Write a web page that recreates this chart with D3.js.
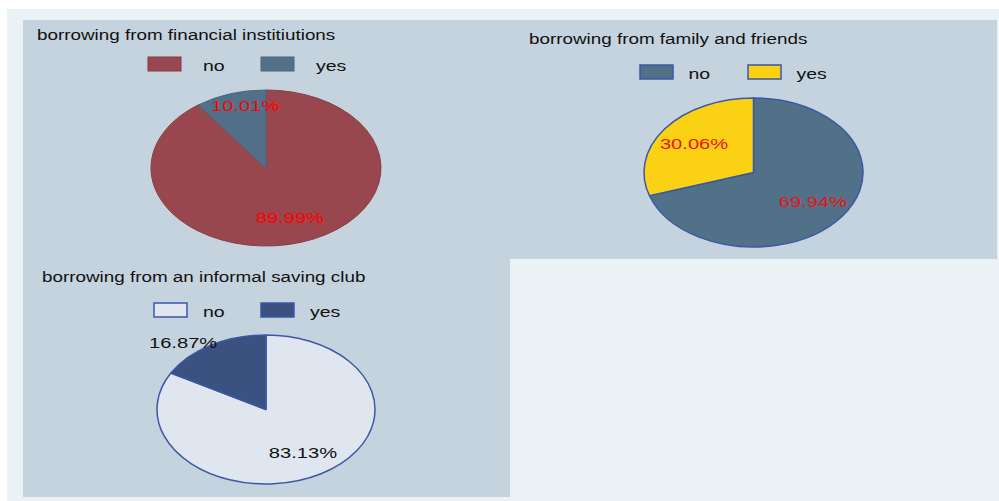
<!DOCTYPE html>
<html>
<head>
<meta charset="utf-8">
<script src="https://cdnjs.cloudflare.com/ajax/libs/d3/7.8.5/d3.min.js"></script>
<style>
  html, body { margin: 0; padding: 0; background: #ffffff; }
  svg { display: block; font-family: "Liberation Sans", Arial, sans-serif; }
</style>
</head>
<body>
<div id="chart"></div>
<script>
// ─── Data ─────────────────────────────────────────────────────────────────────
const TITLES = [
  'borrowing from financial institiutions',
  'borrowing from family and friends',
  'borrowing from an informal saving club',
];
const CATEGORIES = ['no', 'yes'];
const NO_PCT  = [89.99, 69.94, 83.13];
const YES_PCT = [10.01, 30.06, 16.87];

// ─── Layout / style (per panel) ───────────────────────────────────────────────
const W = 999, H = 501;
const SX = 1.3;   // text in the reference is stretched horizontally

const PANELS = [
  { x: 23,  y: 20,  w: 487, h: 239, titleX: 37,  titleY: 40,
    legY: 57,  legX: [148, 261], legGap: 55, cx: 266, cy: 168, rx: 115, ry: 78,
    fills: ['#98474f', '#527189'], strokes: ['#8a3b43', '#4a677e'], sw: 1,
    labelColor: '#ff0000', nudge: [[0, 0], [3, -13]] },
  { x: 510, y: 20,  w: 487, h: 239, titleX: 529, titleY: 44,
    legY: 65,  legX: [640, 748], legGap: 48.5, cx: 753.5, cy: 172.5, rx: 109.5, ry: 74.5,
    fills: ['#517188', '#fbd213'], strokes: ['#3c57a6', '#3c57a6'], sw: 1.5,
    labelColor: '#ee1111', nudge: [[0, 0], [0, 0]] },
  { x: 23,  y: 259, w: 487, h: 238, titleX: 42,  titleY: 282,
    legY: 303, legX: [154, 261], legGap: 49, cx: 266, cy: 409.5, rx: 109, ry: 74.5,
    fills: ['#dfe6f0', '#3b5280'], strokes: ['#3c57a6', '#3c57a6'], sw: 1.5,
    labelColor: '#111111', nudge: [[0, 0], [-46, -24]] },
];

const R = 100;       // reference radius; ellipse made by scaling
const LABEL_K = 0.67;

const svg = d3.select('#chart').append('svg')
  .attr('width', W).attr('height', H)
  .attr('viewBox', `0 0 ${W} ${H}`);

svg.append('rect').attr('x', 7).attr('y', 9).attr('width', 992).attr('height', 492)
  .attr('fill', '#eaf2f5');

const pie = d3.pie().sort(null).value(d => d.v);
const arc = d3.arc().innerRadius(0).outerRadius(R);

function stretchedText(g, x, y, str, size, color, anchor) {
  return g.append('text')
    .attr('transform', `translate(${x},${y}) scale(${SX},1)`)
    .attr('text-anchor', anchor || 'start')
    .attr('font-size', size)
    .attr('fill', color)
    .text(str);
}

PANELS.forEach((p, i) => {
  const g = svg.append('g');
  g.append('rect').attr('x', p.x).attr('y', p.y).attr('width', p.w).attr('height', p.h)
    .attr('fill', '#c5d3de');

  stretchedText(g, p.titleX, p.titleY, TITLES[i], 14.5, '#111111');

  // legend
  CATEGORIES.forEach((c, j) => {
    g.append('rect')
      .attr('x', p.legX[j]).attr('y', p.legY)
      .attr('width', 33).attr('height', 14)
      .attr('fill', p.fills[j]).attr('stroke', p.strokes[j]).attr('stroke-width', p.sw);
    stretchedText(g, p.legX[j] + p.legGap, p.legY + 13.5, c, 15, '#111111');
  });

  // pie as an ellipse
  const data = [{ k: 'no', v: NO_PCT[i] }, { k: 'yes', v: YES_PCT[i] }];
  const arcs = pie(data);
  const pg = g.append('g')
    .attr('transform', `translate(${p.cx},${p.cy}) scale(${p.rx / R},${p.ry / R})`);
  pg.selectAll('path').data(arcs).join('path')
    .attr('d', arc)
    .attr('fill', (d, j) => p.fills[j])
    .attr('stroke', (d, j) => p.strokes[j])
    .attr('stroke-width', p.sw)
    .attr('stroke-linejoin', 'round')
    .attr('vector-effect', 'non-scaling-stroke');

  // percentage labels
  arcs.forEach((d, j) => {
    const a = (d.startAngle + d.endAngle) / 2;
    const x = p.cx + Math.sin(a) * p.rx * LABEL_K + p.nudge[j][0];
    const y = p.cy - Math.cos(a) * p.ry * LABEL_K + p.nudge[j][1] + 5.5;
    stretchedText(g, x, y, d.data.v.toFixed(2) + '%', 15.5, p.labelColor, 'middle');
  });
});
</script>
</body>
</html>
